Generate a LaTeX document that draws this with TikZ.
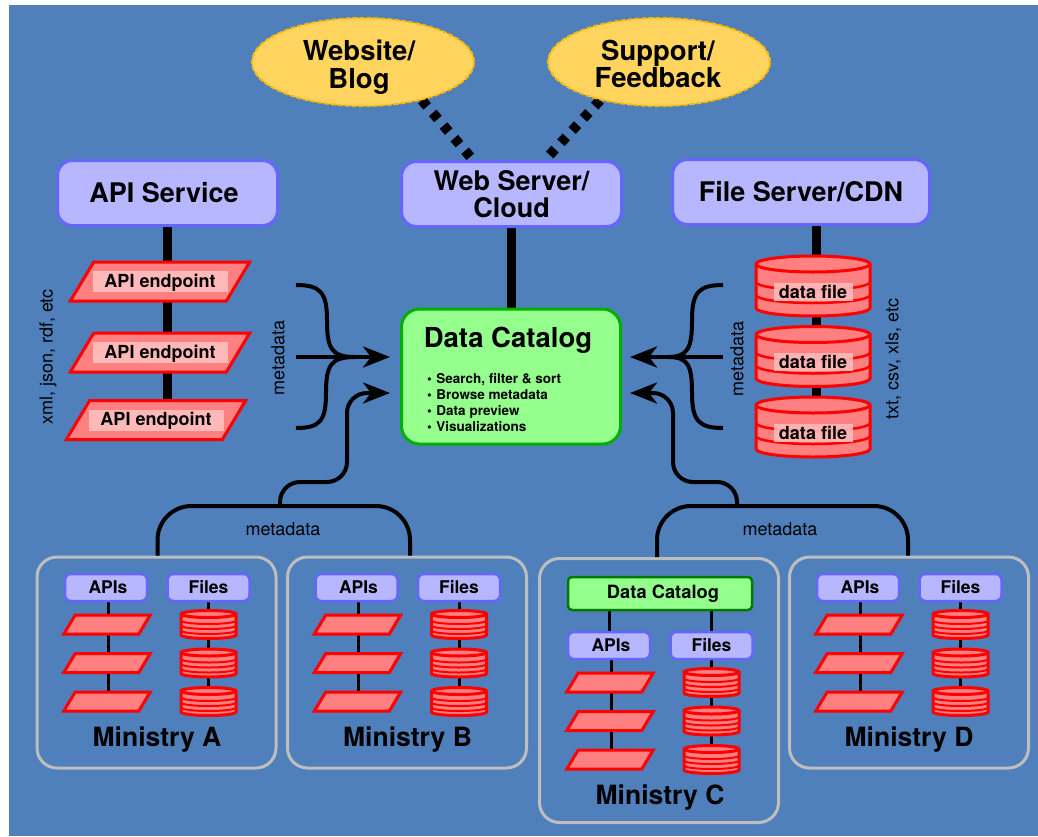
\documentclass[tikz,border=0pt]{standalone}
\usepackage{fontspec}
\setmainfont{TeX Gyre Heros}
\usetikzlibrary{shapes.geometric,backgrounds,arrows.meta}
\definecolor{bgblue}{HTML}{4F80BC}
\definecolor{boxfill}{HTML}{B7B7FF}
\definecolor{boxline}{HTML}{6666FF}
\definecolor{catfill}{HTML}{94FF8C}
\definecolor{catline}{HTML}{00B000}
\definecolor{ovalfill}{HTML}{FFD45F}
\definecolor{ovalline}{HTML}{FFBB00}
\definecolor{redfill}{HTML}{FF8080}
\definecolor{redtag}{HTML}{FFB9B9}
\definecolor{ministryline}{HTML}{BEBEBE}
\newcommand{\fs}[1]{\fontsize{#1}{#1}\selectfont}
\tikzset{
  svcbox/.style={draw=boxline,fill=boxfill,line width=3pt,rounded corners=15pt,align=center,inner sep=0pt,font=\bfseries\fs{27}},
  tinybox/.style={draw=boxline,fill=boxfill,line width=2.5pt,rounded corners=6pt,inner sep=0pt,minimum width=82pt,minimum height=27pt,font=\bfseries\fs{17.5}},
  oval/.style={ellipse,draw=ovalline,fill=ovalfill,line width=2pt,dash pattern=on 5pt off 2pt,inner sep=0pt,minimum width=222pt,minimum height=88pt},
  ovaltext/.style={align=center,inner sep=0pt,font=\bfseries\fs{27.5}},
  apishape/.style={draw=red,fill=redfill,line width=3pt,inner sep=0pt,minimum width=156pt,minimum height=39pt,xslant=.6,transform shape},
  tinyapi/.style={apishape,minimum width=75pt,minimum height=19pt},
  apitag/.style={fill=redtag,inner sep=0pt,minimum width=135pt,minimum height=21pt,text height=13pt,text depth=2pt,font=\bfseries\fs{18}},
  drum/.style={draw=red,fill=redfill,line width=3pt},
  filetag/.style={fill=redtag,fill opacity=.9,text opacity=1,inner sep=0pt,minimum width=79pt,minimum height=18pt,font=\bfseries\fs{18}},
  ministry/.style={draw=ministryline,line width=3pt,rounded corners=20pt,inner sep=0pt,minimum width=239pt},
  spine/.style={line width=9pt},
  wire/.style={line width=3pt},
  dotwire/.style={line width=10pt,dash pattern=on 8pt off 8.6pt},
  metaline/.style={line width=4pt},
  metaarrow/.style={metaline,-{Stealth[length=27pt,width=21pt,inset=8pt]}},
  lbl/.style={font=\fs{18}}
}
% name, x, y, x radius, y radius, half height
\newcommand{\drumat}[6]{
\coordinate (#1) at (#2,#3);
\filldraw[drum] (#2-#4,#3-#6) arc[start angle=180,end angle=360,x radius=#4,y radius=#5]
  -- (#2+#4,#3+#6) arc[start angle=0,end angle=180,x radius=#4,y radius=#5] -- cycle;
\draw[drum,fill=none] (#2-#4,#3-#6) arc[start angle=180,end angle=0,x radius=#4,y radius=#5];
}
\newcommand{\ministrybox}[4]{
\begin{scope}[shift={(#2,#3)}]
\node[tinybox] (#1apis) at (106,587.5) {\hspace*{4pt}APIs};
\node[tinybox] (#1files) at (208.5,587.5) {Files};
\foreach \k/\yy in {1/624.5,2/663,3/701.5} {
  \node[tinyapi] (#1api\k) at (107,\yy) {};
  \drumat{#1file\k}{208.5}{\yy}{27.5}{3.5}{10.5}
  \foreach \sy in {-4,1,6}
    \draw[red,line width=2pt] (181,\yy+\sy) arc[start angle=180,end angle=0,x radius=27.5,y radius=3.5];
}
\begin{scope}[on background layer]
\draw[wire] ([xshift=2pt]#1apis.south) -- ([xshift=2pt]#1apis.south |- #1api3);
\draw[wire] (#1files.south) -- (#1files.south |- #1file3);
\end{scope}
\node[font=\bfseries\fs{26.5}] (#1name) at (157,739.5) {#4};
\end{scope}
}
\begin{document}
\begin{tikzpicture}[x=1pt,y=-1pt]
\useasboundingbox (0,0) rectangle (1038,836);
\begin{scope}[on background layer]
\fill[bgblue] (9,5) rectangle (1038,836);
\end{scope}

% top row
\node[oval] (website) at (363,62) {};
\node[oval] (support) at (659,62) {};
\node[ovaltext] (websitetxt) at (359,67) {Website/\\Blog};
\node[ovaltext] (supporttxt) at (658,64) {Support/\\Feedback};
\node[svcbox,minimum width=220pt,minimum height=65pt] (apisvc) at (167.5,193) {API Service\hspace*{7pt}};
\node[svcbox,minimum width=220pt,minimum height=65pt] (websrv) at (511.5,194) {Web Server/\\Cloud};
\node[svcbox,minimum width=257pt,minimum height=65pt] (filesrv) at (801,192) {File Server/CDN};

% catalog
\node[draw=catline,fill=catfill,line width=3pt,rounded corners=18pt,inner sep=0pt,minimum width=219pt,minimum height=135pt] (catalog) at (511,376.5) {};
\node[font=\bfseries\fs{27.5}] (cattitle) at (508,340) {Data Catalog};
\node[anchor=north west,align=left,inner sep=0pt,font=\bfseries\fs{13.5}] (catlist) at (427,373.5) {%
\textbullet\,\,Search, filter \& sort\\[2.5pt]
\textbullet\,\,Browse metadata\\[2.5pt]
\textbullet\,\,Data preview\\[2.5pt]
\textbullet\,\,Visualizations};

% api endpoints
\node[apishape] (ep1) at (160,281.5) {};
\node[apishape] (ep2) at (160,352.5) {};
\node[apishape] (ep3) at (156,420) {};
\node[apitag] (eptag1) at (ep1) {API endpoint};
\node[apitag] (eptag2) at (ep2) {API endpoint};
\node[apitag] (eptag3) at (ep3) {API endpoint};

% data files
\foreach \k/\yy in {1/286,2/356.5,3/427} {
  \drumat{file\k}{813}{\yy}{57}{8}{22}
  \foreach \sy in {-4,9}
    \draw[red,line width=2.5pt] (756,\yy+\sy) arc[start angle=180,end angle=0,x radius=57,y radius=8];
  \node[filetag] (filetag\k) at (813,\yy+5.5) {data file};
}

\begin{scope}[on background layer]
\draw[dotwire] (website.-33) -- ([xshift=-38.5pt]websrv.north);
\draw[dotwire] (support.-147) -- ([xshift=33.5pt]websrv.north);
\draw[spine] (websrv) -- (websrv |- catalog.north);
\draw[spine] (apisvc.south) -- (apisvc.south |- ep3);
\draw[spine] ([xshift=15pt]filesrv.south) -- ([xshift=15pt]filesrv.south |- file3);
\end{scope}

% side labels
\node[lbl,rotate=90] (lblapi) at (48,357) {xml, json, rdf, etc};
\node[lbl,rotate=90] (lblmetal) at (278,358) {metadata};
\node[lbl,rotate=90] (lblmetar) at (737,359) {metadata};
\node[lbl,rotate=90] (lblfile) at (893,359) {txt, csv, xls, etc};

% metadata arrows
\coordinate (inL) at (296,357);
\coordinate (inLa) at (296,285);
\coordinate (inLb) at (296,428);
\coordinate (joinL) at (355,357);
\coordinate (tipL) at (390,357);
\coordinate (tipLb) at (390,393);
\coordinate (inR) at (723,357);
\coordinate (inRa) at (723,285);
\coordinate (inRb) at (723,428);
\coordinate (joinR) at (668,357);
\coordinate (tipR) at (630,357);
\coordinate (tipRb) at (630,393);
\draw[metaarrow] (inL) -- (tipL);
\draw[metaline] (inLa) .. controls +(24,0) and +(0,-28) .. (327,320) .. controls +(0,28) and +(-24,0) .. (joinL);
\draw[metaline] (inLb) .. controls +(24,0) and +(0,28) .. (326,393) .. controls +(0,-28) and +(-24,0) .. (joinL);
\draw[metaarrow] (inR) -- (tipR);
\draw[metaline] (inRa) .. controls +(-24,0) and +(0,-28) .. (692,320) .. controls +(0,28) and +(20,0) .. (joinR);
\draw[metaline] (inRb) .. controls +(-24,0) and +(0,28) .. (692,393) .. controls +(0,-28) and +(20,0) .. (joinR);

% ministries
\node[ministry,minimum height=211pt] (minA) at (156.5,662.5) {};
\node[ministry,minimum height=211pt] (minB) at (407,662.5) {};
\node[ministry,minimum height=264pt] (minC) at (659,690.5) {};
\node[ministry,minimum height=211pt] (minD) at (909,662.5) {};
\ministrybox{a}{0}{0}{Ministry A}
\ministrybox{b}{250.5}{0}{Ministry B}
\ministrybox{c}{503}{58}{Ministry C}
\ministrybox{d}{752}{0}{Ministry D}
\node[draw=catline!70!black,fill=catfill,line width=2.5pt,rounded corners=4pt,inner sep=0pt,minimum width=184pt,minimum height=33pt,font=\bfseries\fs{18.3}] (catc) at (660,593.5) {\hspace*{6pt}Data Catalog};
\begin{scope}[on background layer]
\draw[wire] (catc.south -| capis.south) -- (capis.north);
\draw[wire] (catc.south -| cfiles.south) -- (cfiles.north);
\end{scope}

% hubs
\coordinate (hubL) at (283,506);
\coordinate (hubR) at (780,506);
\draw[metaline,rounded corners=34pt] ([xshift=1pt]minA.north) |- (hubL) -| ([xshift=3pt]minB.north);
\draw[metaline,rounded corners=34pt] ([xshift=-2pt]minC.north) |- (hubR) -| ([xshift=-1pt]minD.north);
\node[lbl] (lblhubl) at (283,529) {metadata};
\node[lbl] (lblhubr) at (780,529) {metadata};
\draw[metaarrow,rounded corners=20pt] (280,506) -- (280,482) -- (347,482) -- (347,393) -- (tipLb);
\draw[metaarrow,rounded corners=20pt] (737,506) -- (737,482) -- (673,482) -- (673,393) -- (tipRb);
\end{tikzpicture}
\end{document}
